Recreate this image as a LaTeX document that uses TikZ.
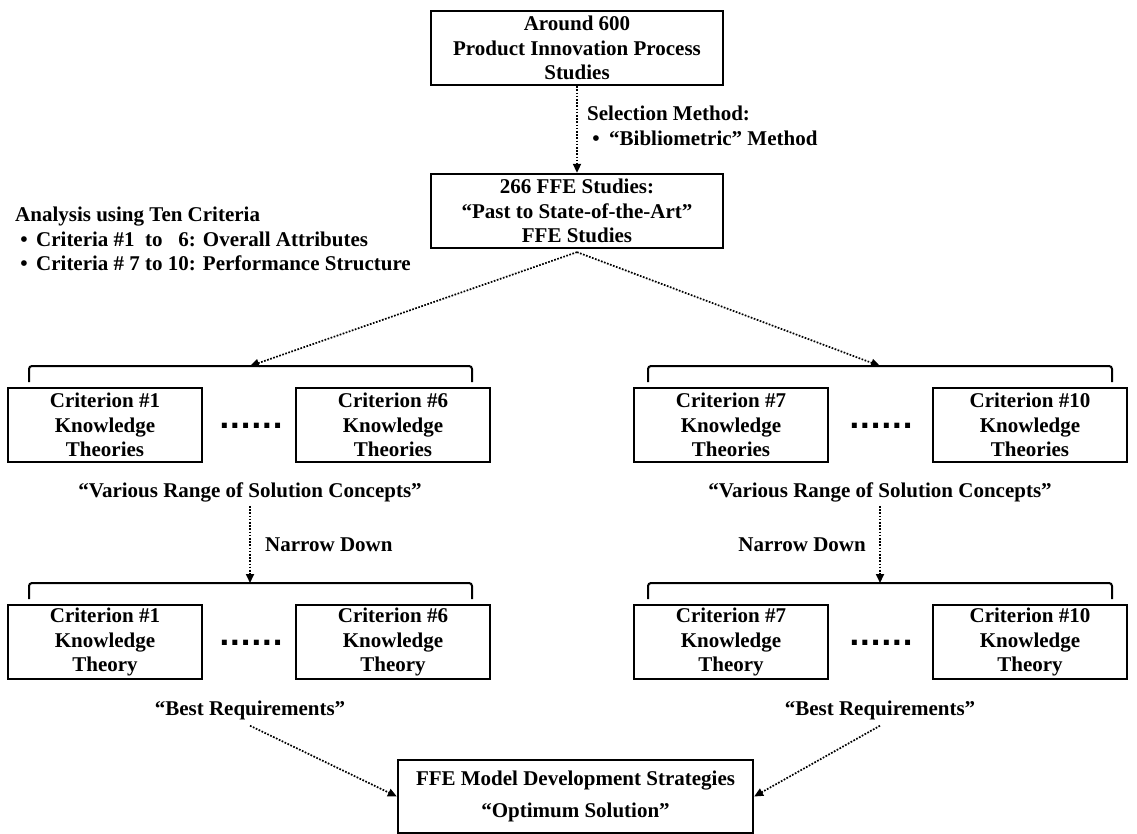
\documentclass[tikz,border=0pt]{standalone}
\usepackage{fontspec}
\setmainfont{Liberation Serif}
\newfontfamily\dotfont{DejaVu Sans}
\usetikzlibrary{arrows.meta}
\tikzset{
  txt/.style={font=\bfseries\fontsize{21}{24.5}\selectfont, inner sep=0pt, align=center},
  box/.style={txt, draw, line width=2.3pt, minimum height=74pt},
  crit/.style={box, minimum width=194pt},
  flow/.style={line width=1.7pt, dash pattern=on 1.7pt off 1.5pt,
    -{Triangle[length=9pt,width=8pt]}},
  brace/.style={line width=2pt, rounded corners=3pt},
  ellip/.style={font=\dotfont\bfseries\fontsize{28}{28}\selectfont, inner sep=0pt, anchor=base}
}
\begin{document}
\begin{tikzpicture}[x=1pt,y=-1pt]
\useasboundingbox (0,0) rectangle (1137,834);

% top of the funnel
\node[box, minimum width=292pt] (pool) at (577,48)
  {Around 600\\Product Innovation Process\\Studies};
\node[box, minimum width=292pt] (ffe) at (577,211)
  {266 FFE Studies:\\“Past to State-of-the-Art”\\FFE Studies};
\draw[flow] (pool.south) -- (ffe.north);
\node[txt, align=left, anchor=north west] (sel) at (587,106)
  {Selection Method:\\\makebox[22pt][l]{\ \textbullet}“Bibliometric” Method};

\node[txt, align=left, anchor=north west] (crit) at (15,207)
  {Analysis using Ten Criteria\\
   \makebox[21pt][l]{\ \textbullet}Criteria \#1 \ to \ \ 6: Overall Attributes\\
   \makebox[21pt][l]{\ \textbullet}Criteria \# 7 to 10: Performance Structure};

% brackets over the first row
\coordinate (bl1) at (250,366);
\coordinate (br1) at (880,366);
\draw[brace] (29,382) -- (29,366) -- (472,366) -- (472,382);
\draw[brace] (648,382) -- (648,366) -- (1112,366) -- (1112,382);
\draw[flow] (ffe.south) ++(0,3) -- (bl1);
\draw[flow] (ffe.south) ++(0,3) -- (br1);

% first row: knowledge theories
\node[crit] (c1) at (105,425) {Criterion \#1\\Knowledge\\Theories};
\node[crit] (c6) at (393,425) {Criterion \#6\\Knowledge\\Theories};
\node[crit] (c7) at (731,425) {Criterion \#7\\Knowledge\\Theories};
\node[crit] (c10) at (1030,425) {Criterion \#10\\Knowledge\\Theories};
\node[ellip] (d1) at (251,428) {......};
\node[ellip] (d2) at (881,428) {......};

\node[txt] (var1) at (250,492) {“Various Range of Solution Concepts”};
\node[txt] (var2) at (880,492) {“Various Range of Solution Concepts”};

% narrowing step
\coordinate (bl2) at (250,583);
\coordinate (br2) at (880,583);
\draw[flow] (var1.south) ++(0,4) -- (bl2);
\draw[flow] (var2.south) ++(0,4) -- (br2);
\node[txt, anchor=west] (nd1) at (265,545) {Narrow Down};
\node[txt, anchor=east] (nd2) at (866,545) {Narrow Down};
\draw[brace] (29,599) -- (29,583) -- (472,583) -- (472,599);
\draw[brace] (648,599) -- (648,583) -- (1112,583) -- (1112,599);

% second row: knowledge theory
\node[crit] (t1) at (105,642) {Criterion \#1\\Knowledge\\Theory};
\node[crit] (t6) at (393,642) {Criterion \#6\\Knowledge\\Theory};
\node[crit] (t7) at (731,642) {Criterion \#7\\Knowledge\\Theory};
\node[crit] (t10) at (1030,642) {Criterion \#10\\Knowledge\\Theory};
\node[ellip] (d3) at (251,645) {......};
\node[ellip] (d4) at (881,645) {......};

\node[txt] (best1) at (250,710) {“Best Requirements”};
\node[txt] (best2) at (880,710) {“Best Requirements”};

% outcome
\node[box, minimum width=355pt, minimum height=73pt,
  font=\bfseries\fontsize{21}{32}\selectfont] (opt) at (575.5,796.5)
  {FFE Model Development Strategies\\“Optimum Solution”};
\draw[flow] (best1.south) ++(0,6) -- (opt.west);
\draw[flow] (best2.south) ++(0,6) -- (opt.east);
\end{tikzpicture}
\end{document}
